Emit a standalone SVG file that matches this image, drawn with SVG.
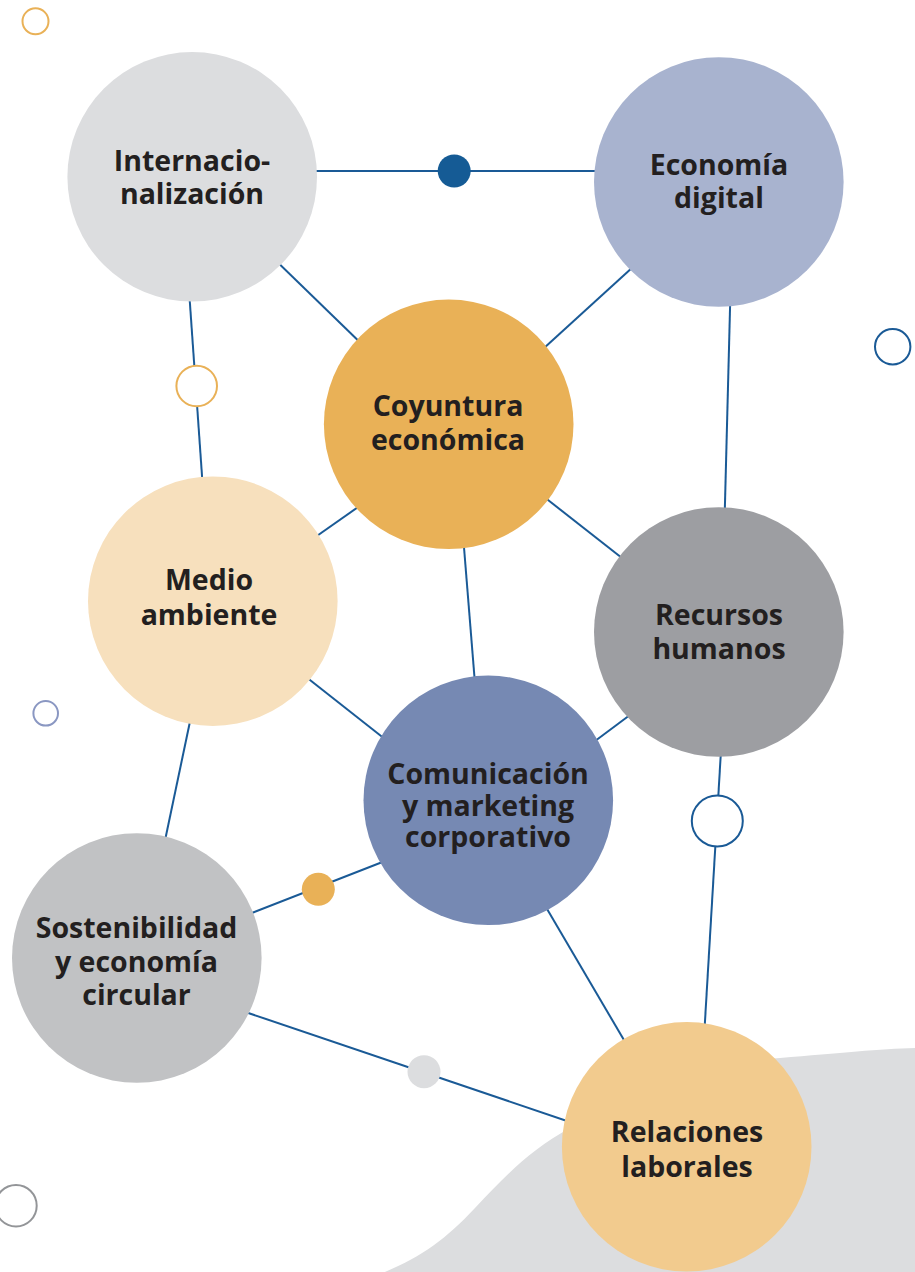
<svg xmlns="http://www.w3.org/2000/svg" width="915" height="1272" viewBox="0 0 915 1272">
  <style>
    .lbl { font-family: "Open Sans", "Liberation Sans", sans-serif; font-weight: 700; font-size: 28.5px; fill: #231f20; text-anchor: middle; }
    .edge { stroke: #1a5a96; stroke-width: 2; fill: none; }
    .ring { fill: #ffffff; stroke-width: 2; }
  </style>
  <rect x="0" y="0" width="915" height="1272" fill="#ffffff"/>

  <g id="background">
    <path d="M 380 1274 C 420 1258 445 1240 475 1208 C 505 1176 530 1150 570 1128 C 640 1088 700 1064 780 1058 C 840 1053 880 1049 915 1048 L 915 1272 L 380 1272 Z" fill="#dcdddf"/>
  </g>

  <g id="decor">
    <circle cx="35.5" cy="21.3" r="13" class="ring" stroke="#e9b157"/>
    <circle cx="892.7" cy="346.7" r="17.7" class="ring" stroke="#1a5a96"/>
    <circle cx="45.7" cy="713.3" r="12.3" class="ring" stroke="#8a97c2"/>
    <circle cx="16" cy="1205.7" r="20.7" class="ring" stroke="#939598"/>
  </g>

  <g id="connectors">
    <line class="edge" x1="300" y1="171" x2="610" y2="171"/>
    <line class="edge" x1="266" y1="251" x2="371" y2="353"/>
    <line class="edge" x1="189" y1="290" x2="203" y2="490"/>
    <line class="edge" x1="645" y1="256" x2="532" y2="359"/>
    <line class="edge" x1="730.5" y1="290" x2="724.5" y2="522"/>
    <line class="edge" x1="371" y1="498" x2="304" y2="545"/>
    <line class="edge" x1="534" y1="489" x2="636" y2="569"/>
    <line class="edge" x1="463" y1="535" x2="475.5" y2="690"/>
    <line class="edge" x1="296" y1="669" x2="395" y2="747"/>
    <line class="edge" x1="192" y1="712" x2="163" y2="850"/>
    <line class="edge" x1="642" y1="706" x2="583" y2="750"/>
    <line class="edge" x1="721.5" y1="742" x2="704" y2="1038"/>
    <line class="edge" x1="394" y1="857.5" x2="239" y2="918"/>
    <line class="edge" x1="540" y1="897" x2="631" y2="1052"/>
    <line class="edge" x1="235" y1="1008.5" x2="578" y2="1124.7"/>
    <g id="connector-dots">
      <circle cx="454.2" cy="171" r="16.5" fill="#155b95"/>
      <circle cx="196.7" cy="386" r="20.3" class="ring" stroke="#e9b157"/>
      <circle cx="717.3" cy="821" r="25.5" class="ring" stroke="#1a5a96" stroke-width="2.5"/>
      <circle cx="318.3" cy="889.3" r="16.5" fill="#e9b157"/>
      <circle cx="424" cy="1071.7" r="16.5" fill="#dcdddf"/>
    </g>
  </g>

  <g id="node-internacionalizacion">
    <circle cx="192.2" cy="176.8" r="124.8" fill="#dcdddf"/>
    <text class="lbl" x="192" y="171">Internacio-</text>
    <text class="lbl" x="192" y="204">nalización</text>
  </g>
  <g id="node-economia-digital">
    <circle cx="718.8" cy="182" r="124.8" fill="#a8b3cf"/>
    <text class="lbl" x="719" y="175">Economía</text>
    <text class="lbl" x="719" y="208">digital</text>
  </g>
  <g id="node-coyuntura">
    <circle cx="448.7" cy="424.3" r="124.8" fill="#e9b157"/>
    <text class="lbl" x="448" y="416">Coyuntura</text>
    <text class="lbl" x="448" y="450">económica</text>
  </g>
  <g id="node-medio-ambiente">
    <circle cx="212.8" cy="601.2" r="124.8" fill="#f7e0bd"/>
    <text class="lbl" x="209" y="590">Medio</text>
    <text class="lbl" x="209" y="625">ambiente</text>
  </g>
  <g id="node-recursos-humanos">
    <circle cx="718.8" cy="632" r="124.8" fill="#9d9ea2"/>
    <text class="lbl" x="719" y="625">Recursos</text>
    <text class="lbl" x="719" y="659">humanos</text>
  </g>
  <g id="node-comunicacion">
    <circle cx="488.3" cy="800.3" r="124.8" fill="#7689b3"/>
    <text class="lbl" x="488" y="784">Comunicación</text>
    <text class="lbl" x="488" y="816">y marketing</text>
    <text class="lbl" x="488" y="847">corporativo</text>
  </g>
  <g id="node-sostenibilidad">
    <circle cx="136.8" cy="958" r="124.8" fill="#c1c2c4"/>
    <text class="lbl" x="136.5" y="938">Sostenibilidad</text>
    <text class="lbl" x="136.5" y="972">y economía</text>
    <text class="lbl" x="136.5" y="1005">circular</text>
  </g>
  <g id="node-relaciones-laborales">
    <circle cx="686.7" cy="1146.8" r="124.8" fill="#f2cb8e"/>
    <text class="lbl" x="687" y="1142">Relaciones</text>
    <text class="lbl" x="687" y="1177">laborales</text>
  </g>
</svg>
